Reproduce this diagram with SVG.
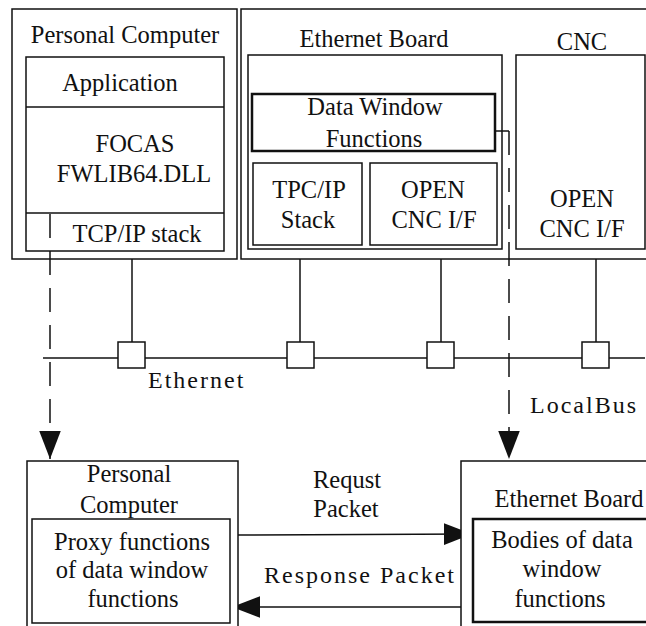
<svg xmlns="http://www.w3.org/2000/svg" width="646" height="626" viewBox="0 0 646 626">
<style>
text{font-family:'Liberation Serif','Times New Roman',serif;font-size:24.5px;fill:#111;text-anchor:middle}
.sp{font-size:24px;letter-spacing:2px;text-anchor:start}
.box{fill:#fff;stroke:#111;stroke-width:1.5}
.thick{fill:#fff;stroke:#111;stroke-width:2.5}
.ln{fill:none;stroke:#111;stroke-width:1.5}
.dash{fill:none;stroke:#111;stroke-width:1.5;stroke-dasharray:24 13}
</style>
<defs>
<marker id="ah" markerUnits="userSpaceOnUse" markerWidth="28" markerHeight="22" viewBox="0 0 26 20" refX="26" refY="10" orient="auto">
<path d="M0,0 L26,10 L0,20 Z" fill="#111"/>
</marker>
</defs>
<rect width="646" height="626" fill="#fff"/>

<g id="pc-top">
<rect class="box" x="12" y="9" width="225" height="250"/>
<text x="125" y="43">Personal Computer</text>
<rect class="box" x="26" y="57" width="198" height="194"/>
<line class="ln" x1="26" y1="107" x2="224" y2="107"/>
<line class="ln" x1="26" y1="213" x2="224" y2="213"/>
<text x="120" y="91">Application</text>
<text x="135" y="152">FOCAS</text>
<text x="134" y="182">FWLIB64.DLL</text>
<text x="137" y="242">TCP/IP stack</text>
</g>

<g id="ethernet-board-top">
<rect class="box" x="241" y="9" width="412" height="250"/>
<text x="374" y="47">Ethernet Board</text>
<rect class="box" x="248" y="55" width="254" height="194"/>
</g>
<g id="data-window">
<rect class="thick" x="252" y="94" width="243" height="57"/>
<text x="375" y="115">Data Window</text>
<text x="374" y="147">Functions</text>
</g>
<g id="tpc-stack">
<rect class="box" x="253" y="163" width="109" height="82"/>
<text x="309" y="198">TPC/IP</text>
<text x="308" y="228">Stack</text>
</g>
<g id="open-cnc-board">
<rect class="box" x="370" y="163" width="127" height="82"/>
<text x="433" y="198">OPEN</text>
<text x="434" y="228">CNC I/F</text>
</g>
<g id="cnc">
<text x="582" y="50">CNC</text>
<rect class="box" x="516" y="55" width="129" height="194"/>
<text x="582" y="207">OPEN</text>
<text x="582" y="237">CNC I/F</text>
</g>

<g id="connectors">
<line class="ln" x1="43" y1="358" x2="645" y2="358"/>
<line class="ln" x1="132" y1="259" x2="132" y2="342"/>
<line class="ln" x1="300" y1="259" x2="300" y2="342"/>
<line class="ln" x1="441" y1="259" x2="441" y2="342"/>
<line class="ln" x1="596" y1="259" x2="596" y2="342"/>
<line class="dash" x1="50" y1="214" x2="50" y2="459" marker-end="url(#ah)"/>
<line class="ln" x1="495" y1="131" x2="509" y2="131"/>
<line class="dash" x1="509" y1="131" x2="509" y2="459" marker-end="url(#ah)"/>
<line class="ln" x1="230" y1="535" x2="472" y2="534" marker-end="url(#ah)"/>
<line class="ln" x1="473" y1="607" x2="232" y2="607" marker-end="url(#ah)"/>
</g>

<g id="bus-nodes">
<rect class="box" x="118" y="342" width="27" height="26"/>
<rect class="box" x="287" y="342" width="27" height="26"/>
<rect class="box" x="427" y="342" width="27" height="26"/>
<rect class="box" x="582" y="342" width="27" height="26"/>
</g>
<g id="labels">
<text class="sp" x="148" y="388">Ethernet</text>
<text class="sp" x="530" y="413">LocalBus</text>
<text x="347" y="488">Requst</text>
<text x="346" y="517">Packet</text>
<text class="sp" x="264" y="583">Response Packet</text>
</g>

<g id="pc-bottom">
<rect class="box" x="27" y="461" width="211" height="200"/>
<text x="129" y="482">Personal</text>
<text x="129" y="513">Computer</text>
</g>
<g id="proxy">
<rect class="box" x="32" y="519" width="198" height="104"/>
<text x="132" y="550">Proxy functions</text>
<text x="132" y="578">of data window</text>
<text x="133" y="607">functions</text>
</g>
<g id="ethernet-board-bottom">
<rect class="box" x="461" y="461" width="200" height="200"/>
<text x="569" y="507">Ethernet Board</text>
</g>
<g id="bodies">
<rect class="thick" x="473" y="519" width="190" height="103"/>
<text x="562" y="548">Bodies of data</text>
<text x="562" y="577">window</text>
<text x="560" y="607">functions</text>
</g>
</svg>
